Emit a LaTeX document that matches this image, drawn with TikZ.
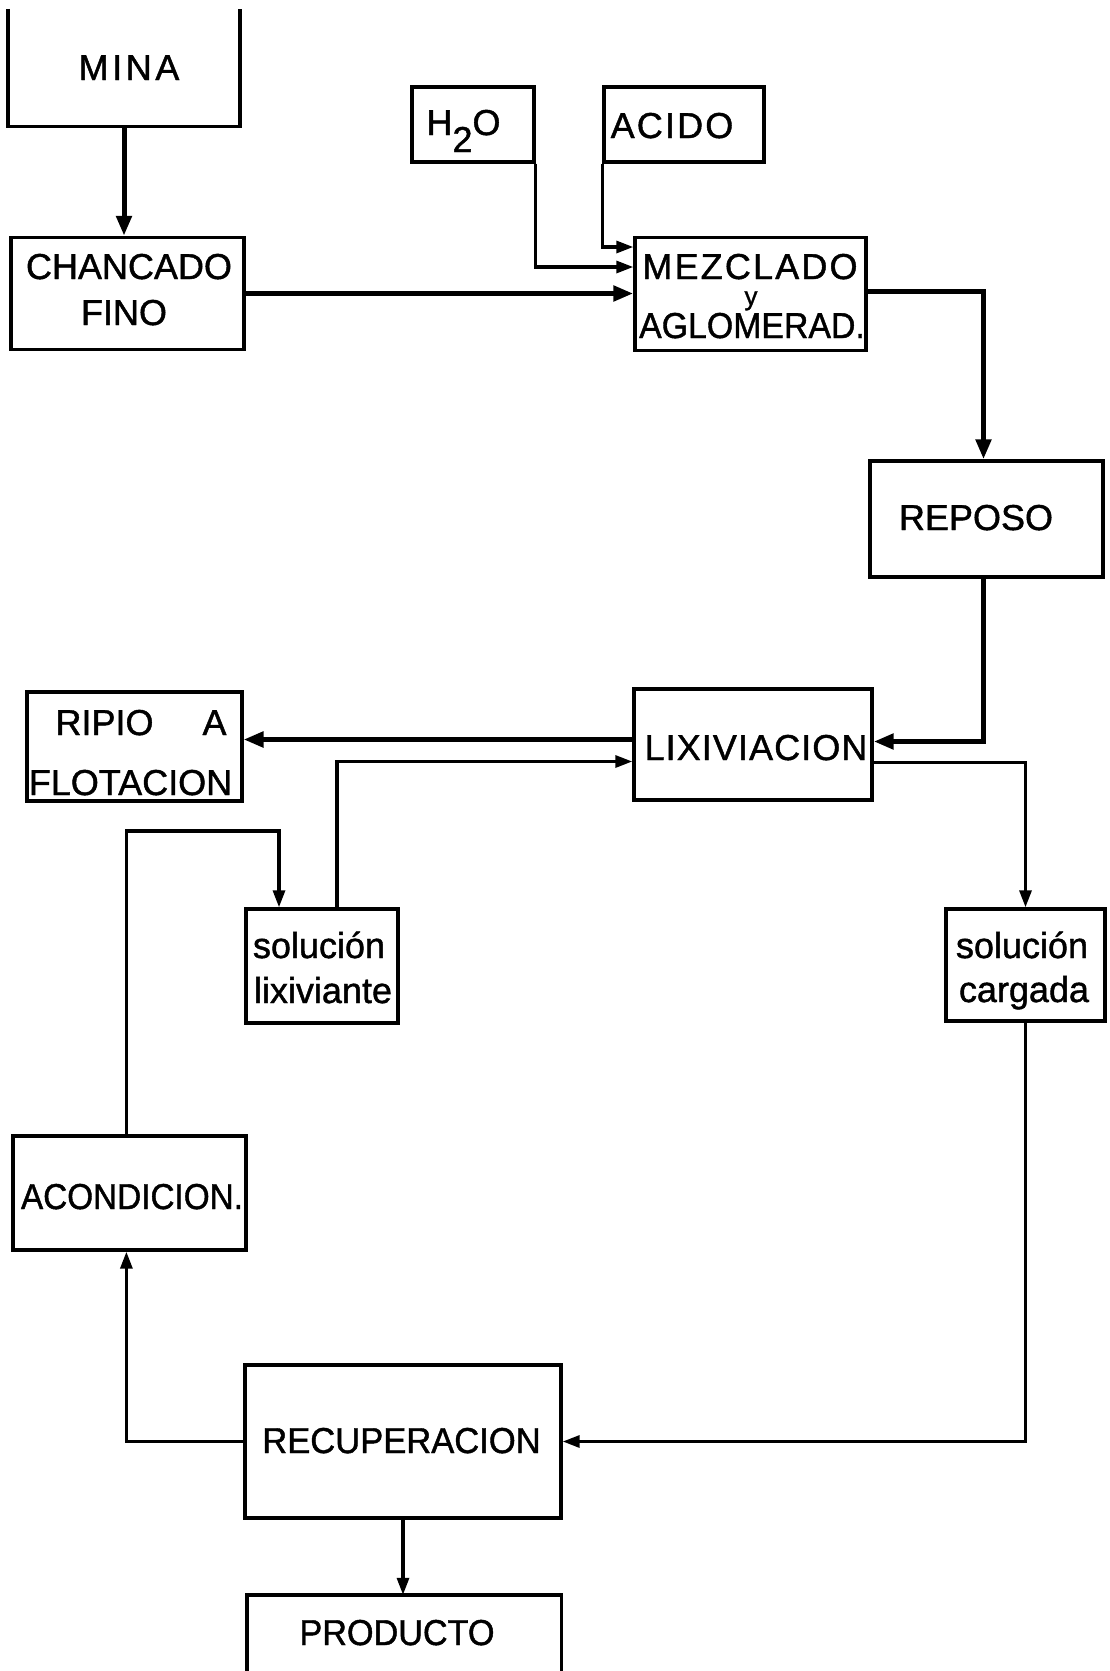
\documentclass[tikz,border=0pt]{standalone}
\usepackage{fontspec}
\setmainfont{Liberation Sans}
\usetikzlibrary{arrows.meta}
\begin{document}
\begin{tikzpicture}[x=1pt,y=-1pt,
  box/.style 2 args={draw,line width=3.4pt,minimum width=#1pt,minimum height=#2pt,inner sep=0pt},
  openbox/.style 2 args={minimum width=#1pt,minimum height=#2pt,inner sep=0pt},
  lbl/.style={anchor=base,inner sep=0pt,font=\fontsize{36}{40}\selectfont\addfontfeature{FakeBold=1.2}},
  edge/.style={line width=3.4pt},
  thinarrow/.style={line width=3.2pt,-{Triangle[length=17pt,width=12pt]}},
  thickarrow/.style={line width=5pt,-{Triangle[length=20pt,width=15pt]}},
]
\useasboundingbox[fill=white] (0,0) rectangle (1109,1671);

% boxes
\node[openbox={231.5}{117}] (mina) at (124,67.5) {};
\draw[edge] (mina.north west) -- (mina.south west) -- (mina.south east) -- (mina.north east);
\node[box={233}{112}] (chanc) at (127.3,293.5) {};
\node[box={122}{75}] (h2o) at (473,124.5) {};
\node[box={160}{75}] (acido) at (684,124.5) {};
\node[box={231}{113}] (mezcl) at (750.5,294) {};
\node[box={233}{116}] (reposo) at (986.5,519) {};
\node[box={238}{111}] (lixiv) at (753,744.5) {};
\node[box={215}{109}] (ripio) at (134.3,746.5) {};
\node[box={152}{114}] (sollix) at (322,966) {};
\node[box={159}{112}] (solcar) at (1025.5,965) {};
\node[box={233}{114}] (acond) at (129.4,1193) {};
\node[box={316}{153}] (recup) at (403,1441.5) {};
\node[openbox={314}{76}] (prod) at (404,1633) {};
\draw[edge] (prod.south west) -- (prod.north west) -- (prod.north east) -- (prod.south east);

% texts
\node[lbl] (t-mina) at (129,80) {\addfontfeature{LetterSpace=10}MINA};
\node[lbl] (t-chanc1) at (129,279) {CHANCADO};
\node[lbl] (t-chanc2) at (124,325) {FINO};
\node[lbl] (t-h2o) at (463.5,135) {H\raisebox{-17pt}{2}O};
\node[lbl] (t-acido) at (672,138) {\addfontfeature{LetterSpace=6}ACIDO};
\node[lbl] (t-mez1) at (750,279) {\addfontfeature{LetterSpace=6}MEZCLADO};
\node[lbl,font=\fontsize{26}{28}\selectfont\addfontfeature{FakeBold=1.2}] (t-mez2) at (751,305) {y};
\node[lbl] (t-mez3) at (752,338) {\scalebox{0.94}[1]{AGLOMERAD.}};
\node[lbl] (t-reposo) at (976,530) {REPOSO};
\node[lbl] (t-lixiv) at (756,760) {\addfontfeature{LetterSpace=3}LIXIVIACION};
\node[lbl] (t-ripio1) at (141,735) {RIPIO\hspace{49pt}A};
\node[lbl] (t-ripio2) at (130.5,795) {FLOTACION};
\node[lbl] (t-sollix1) at (319,958) {solución};
\node[lbl] (t-sollix2) at (323,1003) {lixiviante};
\node[lbl] (t-solcar1) at (1022,958) {solución};
\node[lbl] (t-solcar2) at (1024,1002) {cargada};
\node[lbl] (t-acond) at (132,1209) {\scalebox{0.925}[1]{ACONDICION.}};
\node[lbl] (t-recup) at (401.5,1453) {\scalebox{0.96}[1]{RECUPERACION}};
\node[lbl] (t-prod) at (397,1645) {\scalebox{0.95}[1]{PRODUCTO}};

% connectors
\draw[thickarrow] (mina.south) -- (mina.south |- chanc.north);
\draw[thickarrow] (chanc.east) -- (chanc.east -| mezcl.west);
\draw[thinarrow] (h2o.south east) |- ([yshift=27pt]mezcl.west);
\draw[thinarrow] (acido.south west) |- ([yshift=47pt]mezcl.west);
\draw[thickarrow] ([yshift=3pt]mezcl.east) -| ([xshift=-3pt]reposo.north);
\draw[thickarrow] ([xshift=-3pt]reposo.south) |- ([yshift=3pt]lixiv.east);
\draw[thickarrow] ([yshift=5pt]lixiv.west) -- ([yshift=5pt]lixiv.west -| ripio.east);
\draw[thinarrow] ([xshift=15pt]sollix.north) |- ([yshift=-17pt]lixiv.west);
\draw[thinarrow] ([xshift=-3pt]acond.north) -- ([xshift=-3pt]acond.north |- 0,831) -| ([xshift=-43pt]sollix.north);
\draw[thinarrow] ([yshift=-18pt]lixiv.east) -| (solcar.north);
\draw[thinarrow] (solcar.south) |- (recup.east);
\draw[thinarrow] (recup.west) -| ([xshift=-3pt]acond.south);
\draw[thinarrow] (recup.south) -- (recup.south |- prod.north);
\end{tikzpicture}
\end{document}
